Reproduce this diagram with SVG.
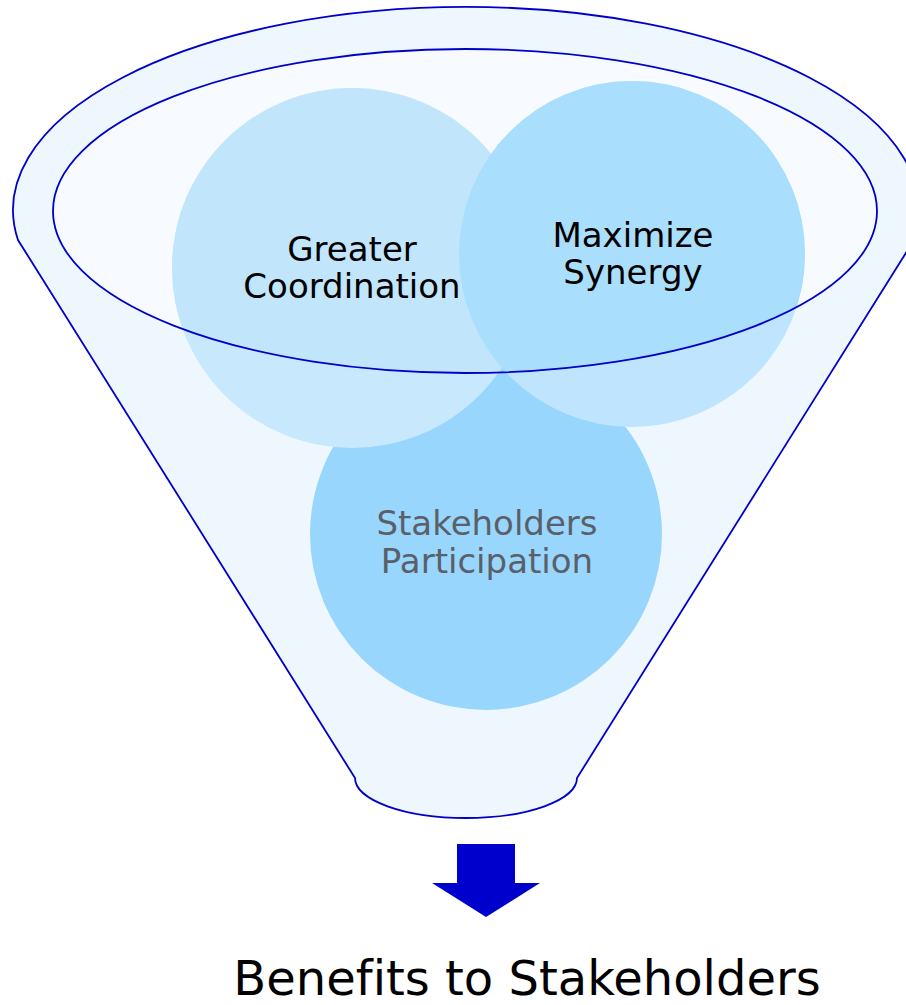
<svg xmlns="http://www.w3.org/2000/svg" width="906" height="1005" viewBox="0 0 906 1005">
<style>
.lbl{font-family:"DejaVu Sans","Liberation Sans",sans-serif;font-size:34px;text-anchor:middle;fill:#000;font-variant-ligatures:none}
.edge{fill:none;stroke:#0000C8;stroke-width:1.8}
</style>
<defs>
<clipPath id="inner"><ellipse cx="465" cy="211" rx="412" ry="162"/></clipPath>
</defs>
<rect width="906" height="1005" fill="#fff"/>
<g id="funnel">
<path d="M18,240 A453,203 0 1 1 914,240 L577,778 A111,40 0 0 1 355,778 Z" fill="#EFF7FE" stroke="#0000C8" stroke-width="1.8"/>
<ellipse cx="465" cy="211" rx="412" ry="162" fill="#F7FBFF"/>
</g>
<g id="stakeholders">
<circle cx="486" cy="534" r="176" fill="#99D6FD"/>
<circle cx="486" cy="534" r="176" fill="#99D6FD" clip-path="url(#inner)"/>
</g>
<g id="coordination">
<circle cx="352" cy="268" r="180" fill="#C8E9FD"/>
<circle cx="352" cy="268" r="180" fill="#C1E6FC" clip-path="url(#inner)"/>
</g>
<g id="synergy">
<circle cx="632" cy="254" r="173" fill="#BEE5FD"/>
<circle cx="632" cy="254" r="173" fill="#AADEFD" clip-path="url(#inner)"/>
</g>
<g id="rim">
<ellipse class="edge" cx="465" cy="211" rx="412" ry="162"/>
</g>
<g id="labels">
<text class="lbl" x="352" y="261">Greater</text>
<text class="lbl" x="352" y="298">Coordination</text>
<text class="lbl" x="633" y="247">Maximize</text>
<text class="lbl" x="633" y="284">Synergy</text>
<text class="lbl" x="487" y="535" style="fill:#5A6068">Stakeholders</text>
<text class="lbl" x="487" y="573" style="fill:#5A6068">Participation</text>
</g>
<g id="connectors">
<path d="M457,844 H515 V883 H540 L486,917 L432,883 H457 Z" fill="#0000CC"/>
</g>
<g id="result">
<text x="527" y="995" style="font-family:'DejaVu Sans','Liberation Sans',sans-serif;font-size:48px;text-anchor:middle;fill:#000;font-variant-ligatures:none">Benefits to Stakeholders</text>
</g>
</svg>
